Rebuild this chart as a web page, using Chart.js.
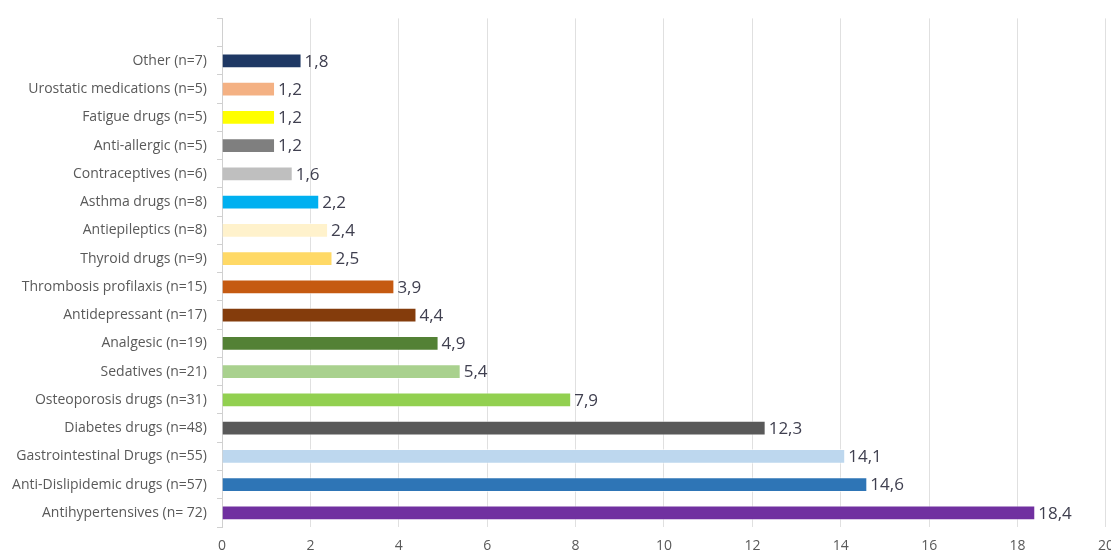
<!DOCTYPE html>
<html>
<head>
<meta charset="utf-8">
<script src="https://cdn.jsdelivr.net/npm/chart.js@4/dist/chart.umd.min.js"></script>
<style>
  html, body { margin: 0; padding: 0; background: #fff; overflow: hidden; }
  #wrap { width: 1125px; height: 556px; position: relative; }
</style>
</head>
<body>
<div id="wrap"><canvas id="drugChart"></canvas></div>
<script>
// Categories listed top to bottom (first slot left empty)
const categories = [
    '',
    'Other (n=7)',
    'Urostatic medications (n=5)',
    'Fatigue drugs (n=5)',
    'Anti-allergic (n=5)',
    'Contraceptives (n=6)',
    'Asthma drugs (n=8)',
    'Antiepileptics (n=8)',
    'Thyroid drugs (n=9)',
    'Thrombosis profilaxis (n=15)',
    'Antidepressant (n=17)',
    'Analgesic (n=19)',
    'Sedatives (n=21)',
    'Osteoporosis drugs (n=31)',
    'Diabetes drugs (n=48)',
    'Gastrointestinal Drugs (n=55)',
    'Anti-Dislipidemic drugs (n=57)',
    'Antihypertensives (n= 72)'
];

const percentages = [null, 1.8, 1.2, 1.2, 1.2, 1.6, 2.2, 2.4, 2.5, 3.9, 4.4, 4.9, 5.4, 7.9, 12.3, 14.1, 14.6, 18.4];

const barColors = [
    '#ffffff', '#1f3864', '#f4b183', '#ffff00', '#7f7f7f', '#bfbfbf', '#00b0f0', '#fff2cc',
    '#ffd966', '#c55a11', '#843c0c', '#538135', '#a9d18e', '#92d050', '#595959',
    '#bdd7ee', '#2e75b6', '#7030a0'
];

const xTicks = [0, 2, 4, 6, 8, 10, 12, 14, 16, 18, 20];

// draws "1,8"-style value labels just past the end of each bar
const valueLabels = {
    id: 'valueLabels',
    afterDatasetsDraw(chart) {
        const ctx = chart.ctx;
        const meta = chart.getDatasetMeta(0);
        ctx.save();
        ctx.font = '17px "Open Sans", sans-serif';
        ctx.fillStyle = '#404050';
        ctx.textAlign = 'left';
        ctx.textBaseline = 'middle';
        meta.data.forEach((bar, i) => {
            const v = percentages[i];
            if (v === null) return;
            ctx.fillText(v.toFixed(1).replace('.', ','), bar.x + 3, bar.y + 1);
        });
        ctx.restore();
    }
};

new Chart(document.getElementById('drugChart'), {
    type: 'bar',
    data: {
        labels: categories,
        datasets: [{
            data: percentages,
            backgroundColor: barColors,
            borderColor: 'rgba(255,255,255,0.6)',
            borderWidth: 1,
            categoryPercentage: 1,
            barPercentage: 0.52
        }]
    },
    options: {
        indexAxis: 'y',
        responsive: true,
        maintainAspectRatio: false,
        animation: false,
        layout: { padding: { top: 16, left: 0, right: 0, bottom: 0 } },
        plugins: {
            legend: { display: false },
            tooltip: { enabled: false }
        },
        scales: {
            x: {
                min: 0,
                max: 20,
                afterBuildTicks: (scale) => { scale.ticks = xTicks.map(v => ({ value: v })); },
                afterFit: (scale) => { scale.height = 29; },
                grid: { color: '#e0e0e0', drawTicks: false },
                border: { display: false },
                ticks: {
                    color: '#595959',
                    font: { family: '"Open Sans", sans-serif', size: 14 },
                    padding: 11
                }
            },
            y: {
                grid: { drawOnChartArea: false, color: '#d0d0d0', tickLength: 5, offset: true },
                border: { display: true, color: '#d0d0d0' },
                afterFit: (scale) => { scale.width = 222; },
                ticks: {
                    color: '#595959',
                    font: { family: '"Open Sans", sans-serif', size: 14 },
                    padding: 10
                }
            }
        }
    },
    plugins: [valueLabels]
});
</script>
</body>
</html>
